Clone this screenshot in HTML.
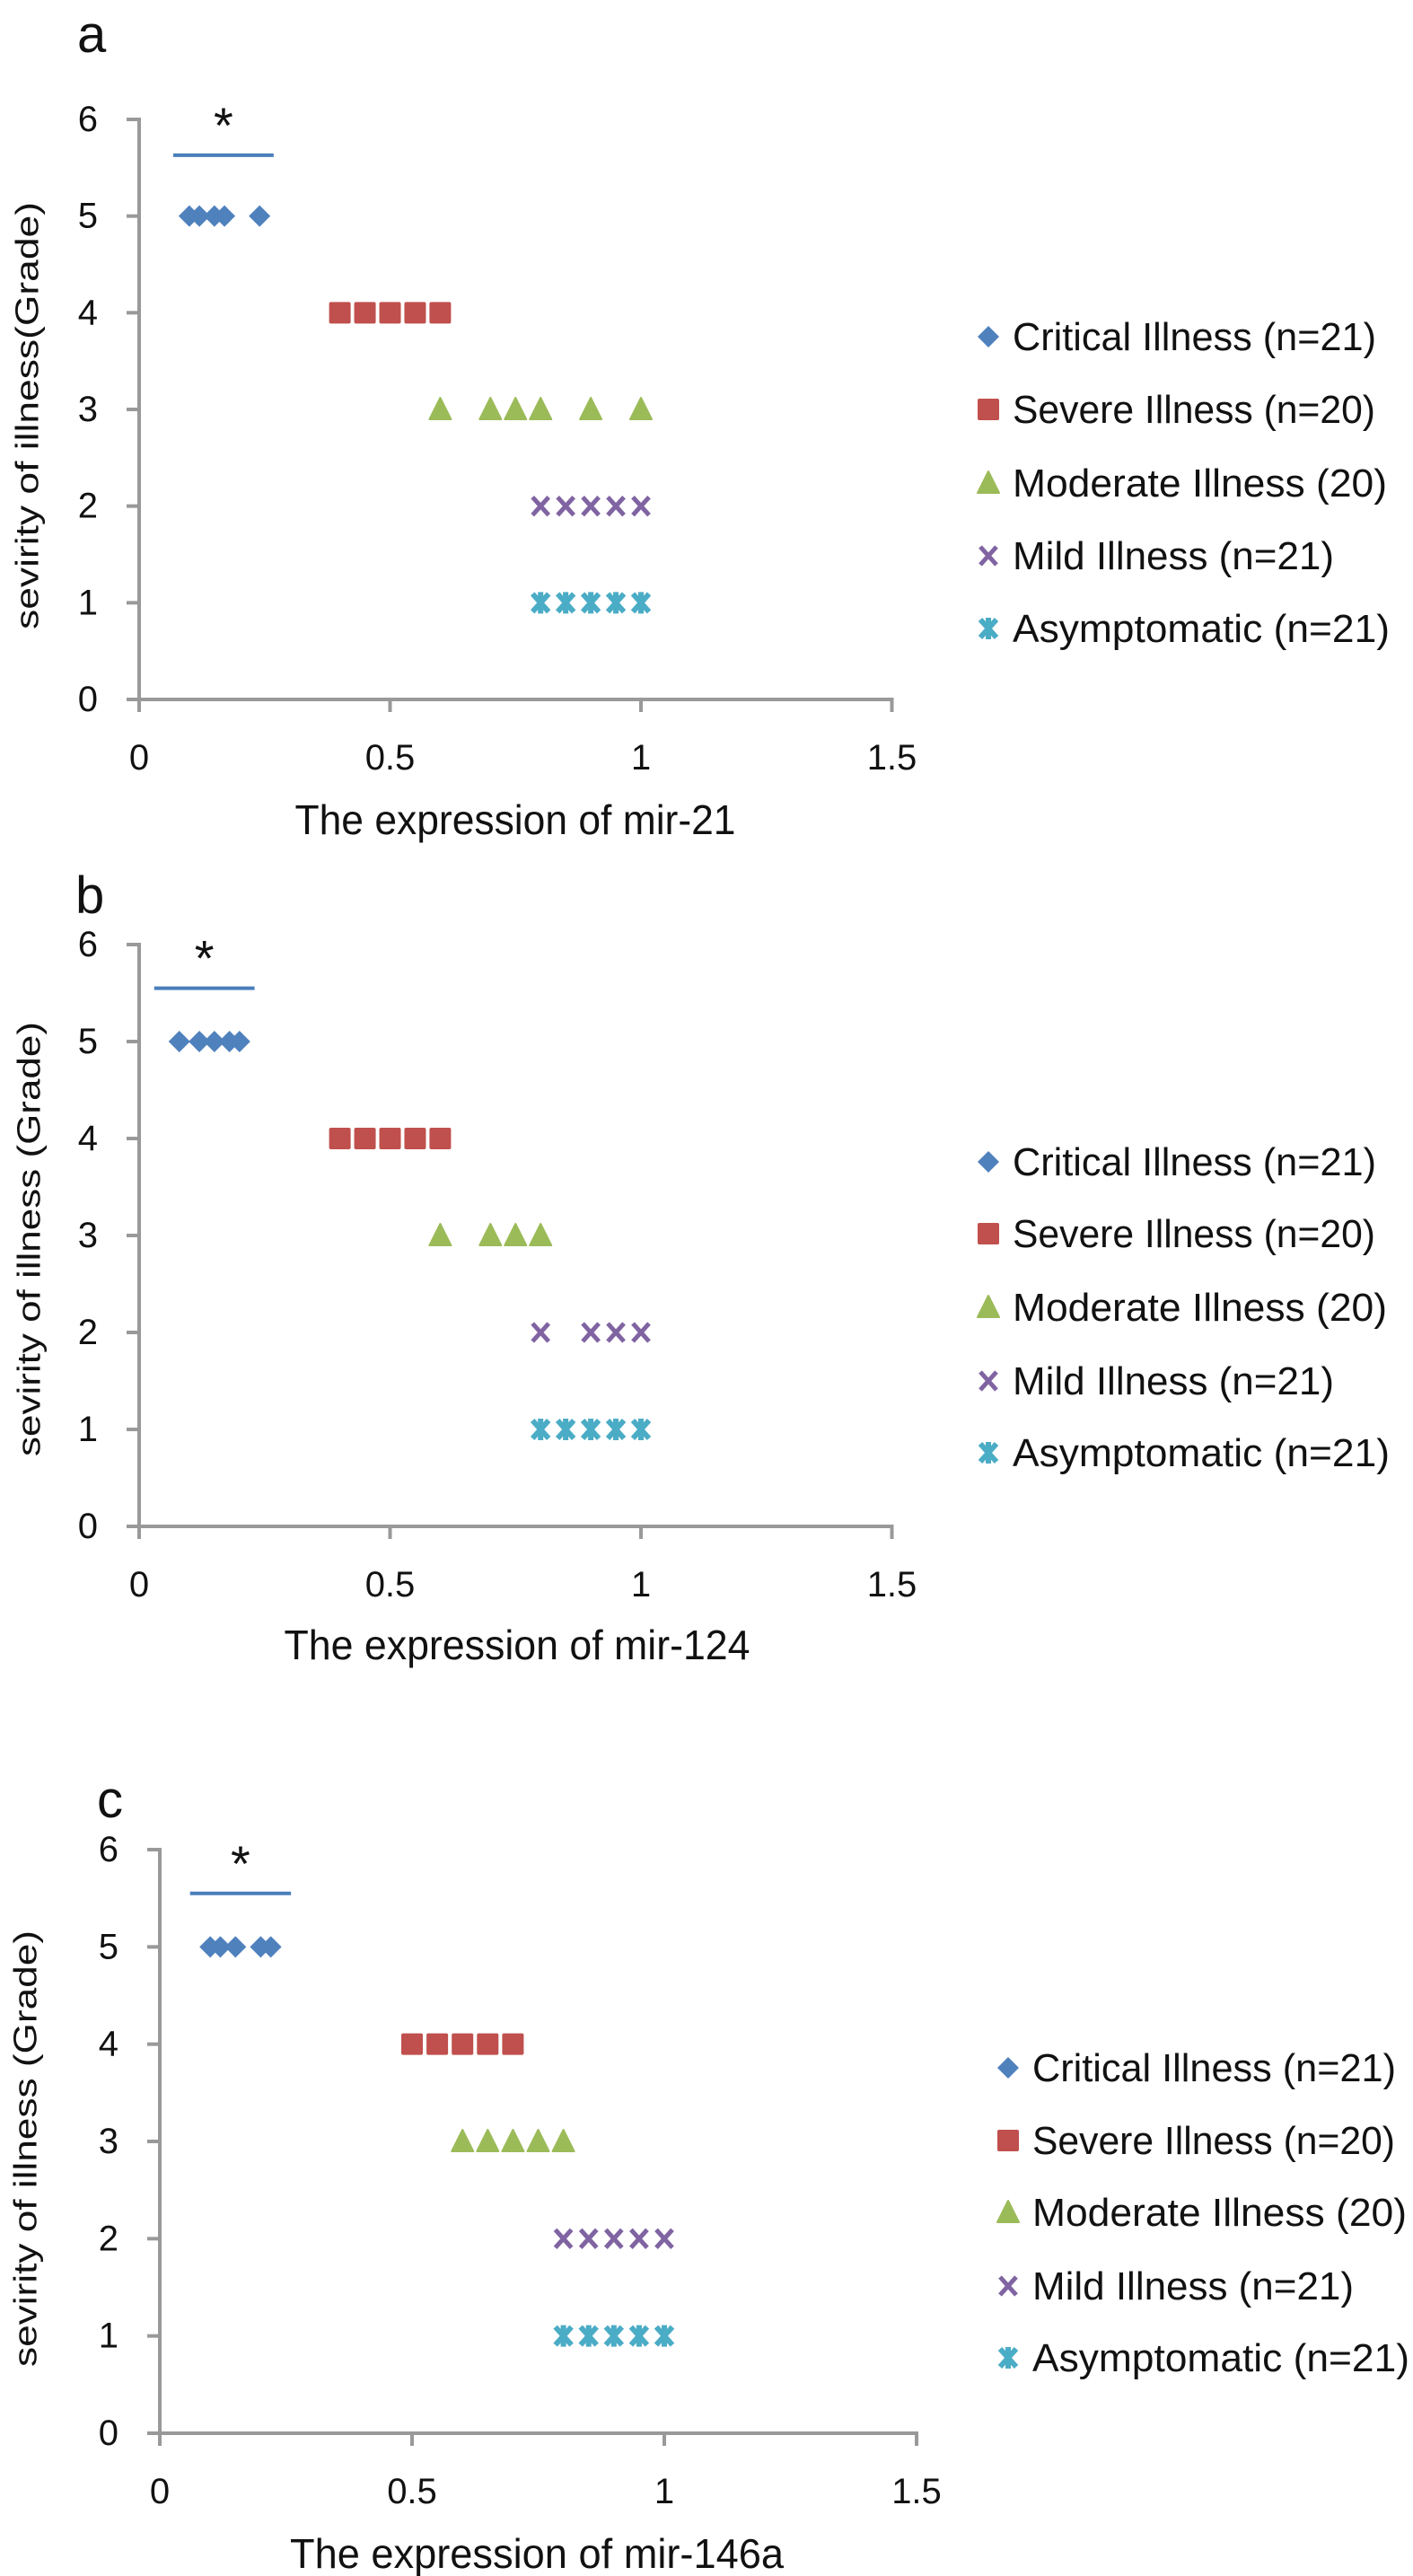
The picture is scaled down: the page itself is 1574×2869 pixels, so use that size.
<!DOCTYPE html>
<html><head><meta charset="utf-8">
<style>
html,body{margin:0;padding:0;background:#fff;}
svg{display:block;font-family:"Liberation Sans",sans-serif;}
</style></head>
<body>
<svg id="fig" width="1574" height="2869" viewBox="0 0 1574 2869" xmlns="http://www.w3.org/2000/svg">
<rect width="1574" height="2869" fill="#fff"/>
</svg>
<script>
// ---- data ----
const seriesNames = ["Critical Illness (n=21)","Severe Illness (n=20)","Moderate Illness (20)","Mild Illness (n=21)","Asymptomatic (n=21)"];
const seriesGrades = [5,4,3,2,1];
const xTicks = [0,0.5,1,1.5];
const xTickLabels = ["0","0.5","1","1.5"];
const yTicks = [0,1,2,3,4,5,6];
// panel a (mir-21)
const aCritical = [0.10,0.12,0.15,0.17,0.24];
const aSevere = [0.40,0.45,0.50,0.55,0.60];
const aModerate = [0.60,0.70,0.75,0.80,0.90,1.00];
const aMild = [0.80,0.85,0.90,0.95,1.00];
const aAsym = [0.80,0.85,0.90,0.95,1.00];
const aSigBar = [0.068,0.268,5.63];
// panel b (mir-124)
const bCritical = [0.08,0.12,0.15,0.18,0.20];
const bSevere = [0.40,0.45,0.50,0.55,0.60];
const bModerate = [0.60,0.70,0.75,0.80];
const bMild = [0.80,0.90,0.95,1.00];
const bAsym = [0.80,0.85,0.90,0.95,1.00];
const bSigBar = [0.03,0.23,5.55];
// panel c (mir-146a)
const cCritical = [0.10,0.12,0.15,0.20,0.22];
const cSevere = [0.50,0.55,0.60,0.65,0.70];
const cModerate = [0.60,0.65,0.70,0.75,0.80];
const cMild = [0.80,0.85,0.90,0.95,1.00];
const cAsym = [0.80,0.85,0.90,0.95,1.00];
const cSigBar = [0.06,0.26,5.55];

const NS="http://www.w3.org/2000/svg";
const svg=document.getElementById('fig');
const colors=["#4f81bd","#c0504d","#9bbb59","#8064a2","#4bacc6"];
function mk(tag,attrs,parent){const e=document.createElementNS(NS,tag);for(const k in attrs)e.setAttribute(k,attrs[k]);(parent||svg).appendChild(e);return e;}

function marker(g,type,cx,cy){
  let e;
  if(type===0){e=mk('polygon',{points:`${cx},${cy-12} ${cx+12},${cy} ${cx},${cy+12} ${cx-12},${cy}`,fill:colors[0]},g);}
  else if(type===1){e=mk('rect',{x:cx-12,y:cy-12,width:24,height:24,rx:2,fill:colors[1]},g);}
  else if(type===2){e=mk('polygon',{points:`${cx},${cy-13} ${cx+12},${cy+11} ${cx-12},${cy+11}`,fill:colors[2],'stroke':colors[2],'stroke-width':2,'stroke-linejoin':'round'},g);}
  else if(type===3){e=mk('path',{d:`M${cx-9},${cy-10}L${cx+9},${cy+10}M${cx+9},${cy-10}L${cx-9},${cy+10}`,stroke:colors[3],'stroke-width':5,fill:'none'},g);}
  else {e=mk('path',{d:`M${cx-9},${cy-10}L${cx+9},${cy+10}M${cx+9},${cy-10}L${cx-9},${cy+10}M${cx},${cy-12}L${cx},${cy+12}`,stroke:colors[4],'stroke-width':6,fill:'none'},g);}
  return e;
}

function panel(p){
  const g=mk('g',{});
  
  
  const sx=v=>p.x0+v*p.xPer;
  const sy=v=>p.y0-v*(p.y0-p.y6)/6;
  const lt=mk('text',{x:p.lx,y:p.ly,'font-size':58,fill:'#111'},g);
  lt.textContent=p.id;
  
  
  const ya=mk('line',{x1:p.x0,y1:sy(6)-2,x2:p.x0,y2:p.y0+2,stroke:'#999','stroke-width':4},g);
  
  
  const xa=mk('line',{x1:p.x0-14,y1:p.y0,x2:sx(1.5)+2,y2:p.y0,stroke:'#999','stroke-width':4},g);
  
  
  yTicks.forEach(v=>{
    mk('line',{x1:p.x0-14,y1:sy(v),x2:p.x0,y2:sy(v),stroke:'#999','stroke-width':4},g);
    const t=mk('text',{x:p.x0-46,y:sy(v),'font-size':40,'text-anchor':'end','dominant-baseline':'central',fill:'#111'},g);
    t.textContent=String(v);
    
    
  });
  xTicks.forEach((v,i)=>{
    mk('line',{x1:sx(v),y1:p.y0,x2:sx(v),y2:p.y0+14,stroke:'#999','stroke-width':4},g);
    const t=mk('text',{x:sx(v),y:p.y0+65,'font-size':40,'text-anchor':'middle','dominant-baseline':'central',fill:'#111'},g);
    t.textContent=xTickLabels[i];
    
    
  });
  const xt=mk('text',{x:p.tx,y:p.ty,'font-size':46,'text-anchor':'middle',fill:'#111',textLength:p.tw,lengthAdjust:'spacingAndGlyphs'},g);
  xt.textContent=p.xtitle;
  
  
  const yt=mk('text',{x:0,y:0,'font-size':36,'text-anchor':'middle','dominant-baseline':'central',fill:'#111',textLength:p.yw,lengthAdjust:'spacingAndGlyphs',transform:`translate(${p.yx},${p.yy}) rotate(-90)`},g);
  yt.textContent=p.ytitle;
  
  
  const sb=mk('line',{x1:sx(p.sig[0]),y1:sy(p.sig[2]),x2:sx(p.sig[1]),y2:sy(p.sig[2]),stroke:'#4a7ebb','stroke-width':4},g);
  
  
  const st=mk('text',{x:(sx(p.sig[0])+sx(p.sig[1]))/2,y:sy(p.sig[2])-14,'font-size':56,'text-anchor':'middle',fill:'#111'},g);
  st.textContent='*';
  
  
  p.data.forEach((arr,si)=>{
    arr.forEach(v=>{
      const m=marker(g,si,sx(v),sy(seriesGrades[si]));
      
      
    });
  });
  seriesNames.forEach((n,i)=>{
    const cy=p.legY[i];
    const m=marker(g,i,p.legMx,cy);
    
    
    const t=mk('text',{x:p.legTx,y:cy+15,'font-size':44,fill:'#111',textLength:p.legW[i],lengthAdjust:'spacingAndGlyphs'},g);
    t.textContent=n;
    
    
  });
}

const legW=[405,404,417,358,420];
panel({id:'a',x0:155,xPer:559,y0:779,y6:133,lx:86,ly:58,tx:574,ty:929,tw:491,xtitle:'The expression of mir-21',
  yx:30,yy:463,yw:476,ytitle:'sevirity of illness(Grade)',sig:aSigBar,
  data:[aCritical,aSevere,aModerate,aMild,aAsym],legMx:1101,legTx:1128,legY:[375,456,538,619,700],legW:legW});
panel({id:'b',x0:155,xPer:559,y0:1700,y6:1052,lx:84,ly:1017,tx:576,ty:1848,tw:519,xtitle:'The expression of mir-124',
  yx:32,yy:1380,yw:484,ytitle:'sevirity of illness (Grade)',sig:bSigBar,
  data:[bCritical,bSevere,bModerate,bMild,bAsym],legMx:1101,legTx:1128,legY:[1294,1374,1456,1538,1618],legW:legW});
panel({id:'c',x0:178,xPer:562,y0:2710,y6:2060,lx:108,ly:2024,tx:598,ty:2860,tw:550,xtitle:'The expression of mir-146a',
  yx:28,yy:2393,yw:486,ytitle:'sevirity of illness (Grade)',sig:cSigBar,
  data:[cCritical,cSevere,cModerate,cMild,cAsym],legMx:1123,legTx:1150,legY:[2303,2384,2464,2546,2626],legW:legW});
</script>
</body></html>
